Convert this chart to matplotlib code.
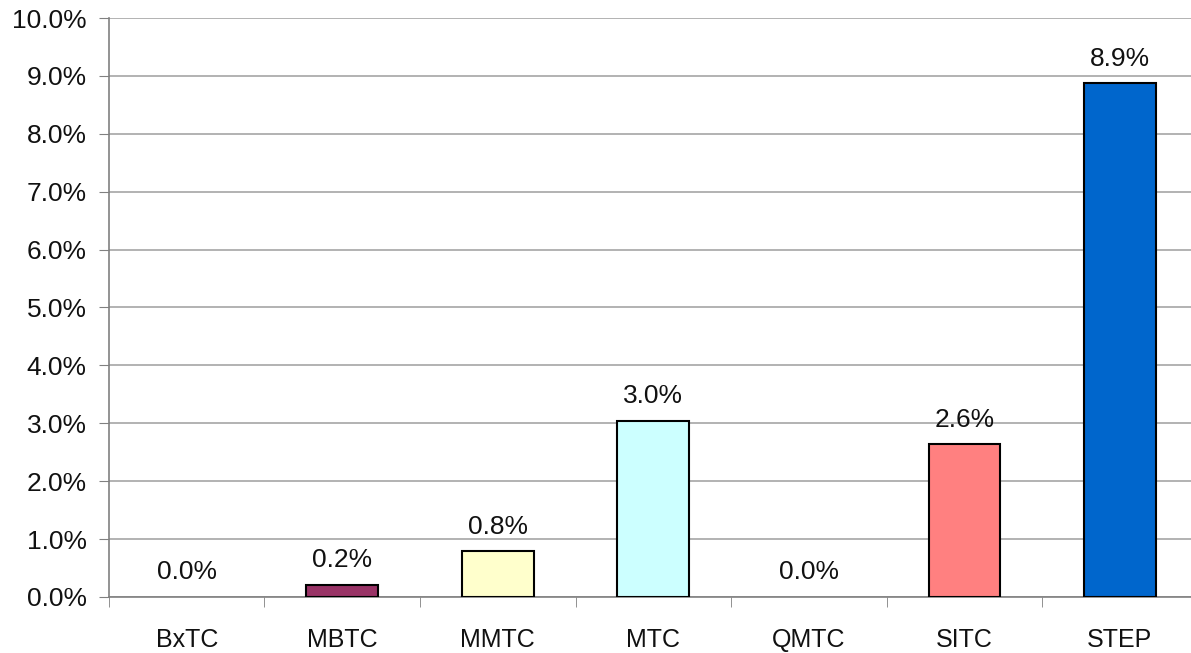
import numpy as np
import matplotlib
matplotlib.use("Agg")
import matplotlib.pyplot as plt
from matplotlib.ticker import FixedLocator, PercentFormatter

plt.rcParams["font.family"] = ["Liberation Sans", "DejaVu Sans"]

categories = ["BxTC", "MBTC", "MMTC", "MTC", "QMTC", "SITC", "STEP"]
values = [0.0, 0.21, 0.79, 3.04, 0.0, 2.64, 8.87]
colors = ["#FFFFFF", "#993366", "#FFFFCC", "#CCFFFF", "#FFFFFF", "#FF8080", "#0066CC"]

fig = plt.figure(figsize=(11.91, 6.53), dpi=100)
# the plot area runs a little past the right edge of the picture, as in the original
ax = fig.add_axes([0.0915, 0.0858, 0.914, 0.8866])

x = np.arange(len(categories))
bars = ax.bar(x, values, width=0.46, color=colors, edgecolor="black", linewidth=1.5, zorder=3)
for b, v in zip(bars, values):
    if v == 0:
        b.set_visible(False)
    ax.annotate(f"{v:.1f}%", (b.get_x() + b.get_width() / 2, v),
                xytext=(0, 9), textcoords="offset points",
                ha="center", va="bottom", fontsize=19, color="#111111", zorder=4)

ax.set_xlim(-0.5, len(categories) - 0.5)
ax.set_ylim(0, 10)
ax.set_yticks(np.arange(0, 10.5, 1))
ax.yaxis.set_major_formatter(PercentFormatter(decimals=1))
ax.set_xticks(x)
ax.set_xticklabels(categories)
ax.xaxis.set_minor_locator(FixedLocator(np.arange(-0.5, len(categories), 1)))
ax.tick_params(axis="x", which="major", length=0, labelsize=18, pad=22, labelcolor="#111111")
ax.tick_params(axis="x", which="minor", length=7, color="#808080", direction="out")
ax.tick_params(axis="y", length=7, color="#808080", labelsize=19, pad=9, labelcolor="#111111")

ax.grid(True, axis="y", color="#A6A6A6", linewidth=1.2, zorder=0)
for s in ["top", "right"]:
    ax.spines[s].set_visible(False)
ax.spines["left"].set_color("#808080")
ax.spines["bottom"].set_color("#808080")
ax.spines["left"].set_linewidth(1.2)
ax.spines["bottom"].set_linewidth(1.2)

plt.savefig("out.png", dpi=100)
plt.close()
